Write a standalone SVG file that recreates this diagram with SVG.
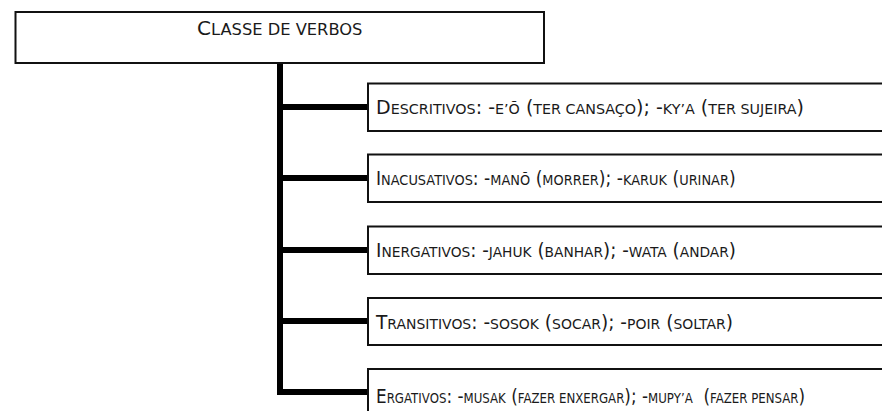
<svg xmlns="http://www.w3.org/2000/svg" width="882" height="411" viewBox="0 0 882 411">
<style>
.bg{fill:#fff}
.box{fill:#fff;stroke:#111;stroke-width:2}
.conn{fill:none;stroke:#000;stroke-width:6;stroke-linejoin:miter}
.t{font-family:"DejaVu Sans",Verdana,sans-serif;font-size:19px;fill:#1a1a1a;white-space:pre}
.ti{font-size:20px}
.s{font-size:14.3px}
.ti .s{font-size:16.3px}
.e .s{font-size:13.3px}
</style>
<rect class="bg" x="0" y="0" width="882" height="411"/>
<g id="connectors">
<path class="conn" d="M280 62 V392 H369"/>
<path class="conn" d="M280 107 H369"/>
<path class="conn" d="M280 178 H369"/>
<path class="conn" d="M280 250 H369"/>
<path class="conn" d="M280 321 H369"/>
</g>
<g id="root">
<rect class="box" x="15.5" y="12" width="528.5" height="51"/>
<text class="t ti" x="197" y="34.5">C<tspan class="s">LASSE DE VERBOS</tspan></text>
</g>
<g id="descritivos">
<rect class="box" x="368" y="83.5" width="530" height="47.5"/>
<text class="t" transform="translate(376 113.5)">D<tspan class="s">ESCRITIVOS</tspan>: -<tspan class="s">E’Õ</tspan> (<tspan class="s">TER CANSAÇO</tspan>); -<tspan class="s">KY’A</tspan> (<tspan class="s">TER SUJEIRA</tspan>)</text>
</g>
<g id="inacusativos">
<rect class="box" x="368" y="154.5" width="530" height="47.5"/>
<text class="t" transform="translate(376 185) scale(0.905 1)">I<tspan class="s">NACUSATIVOS</tspan>: -<tspan class="s">MANÕ</tspan> (<tspan class="s">MORRER</tspan>); -<tspan class="s">KARUK</tspan> (<tspan class="s">URINAR</tspan>)</text>
</g>
<g id="inergativos">
<rect class="box" x="368" y="226.5" width="530" height="47.5"/>
<text class="t" transform="translate(376 257) scale(0.964 1)">I<tspan class="s">NERGATIVOS</tspan>: -<tspan class="s">JAHUK</tspan> (<tspan class="s">BANHAR</tspan>); -<tspan class="s">WATA</tspan> (<tspan class="s">ANDAR</tspan>)</text>
</g>
<g id="transitivos">
<rect class="box" x="368" y="298" width="530" height="47"/>
<text class="t" transform="translate(376 328.5) scale(0.977 1)">T<tspan class="s">RANSITIVOS</tspan>: -<tspan class="s">SOSOK</tspan> (<tspan class="s">SOCAR</tspan>); -<tspan class="s">POIR</tspan> (<tspan class="s">SOLTAR</tspan>)</text>
</g>
<g id="ergativos">
<rect class="box" x="368" y="369" width="530" height="50"/>
<text class="t e" transform="translate(376 403) scale(0.887 1)">E<tspan class="s">RGATIVOS</tspan>: -<tspan class="s">MUSAK</tspan> (<tspan class="s">FAZER ENXERGAR</tspan>); -<tspan class="s">MUPY’A</tspan>  (<tspan class="s">FAZER PENSAR</tspan>)</text>
</g>
</svg>
